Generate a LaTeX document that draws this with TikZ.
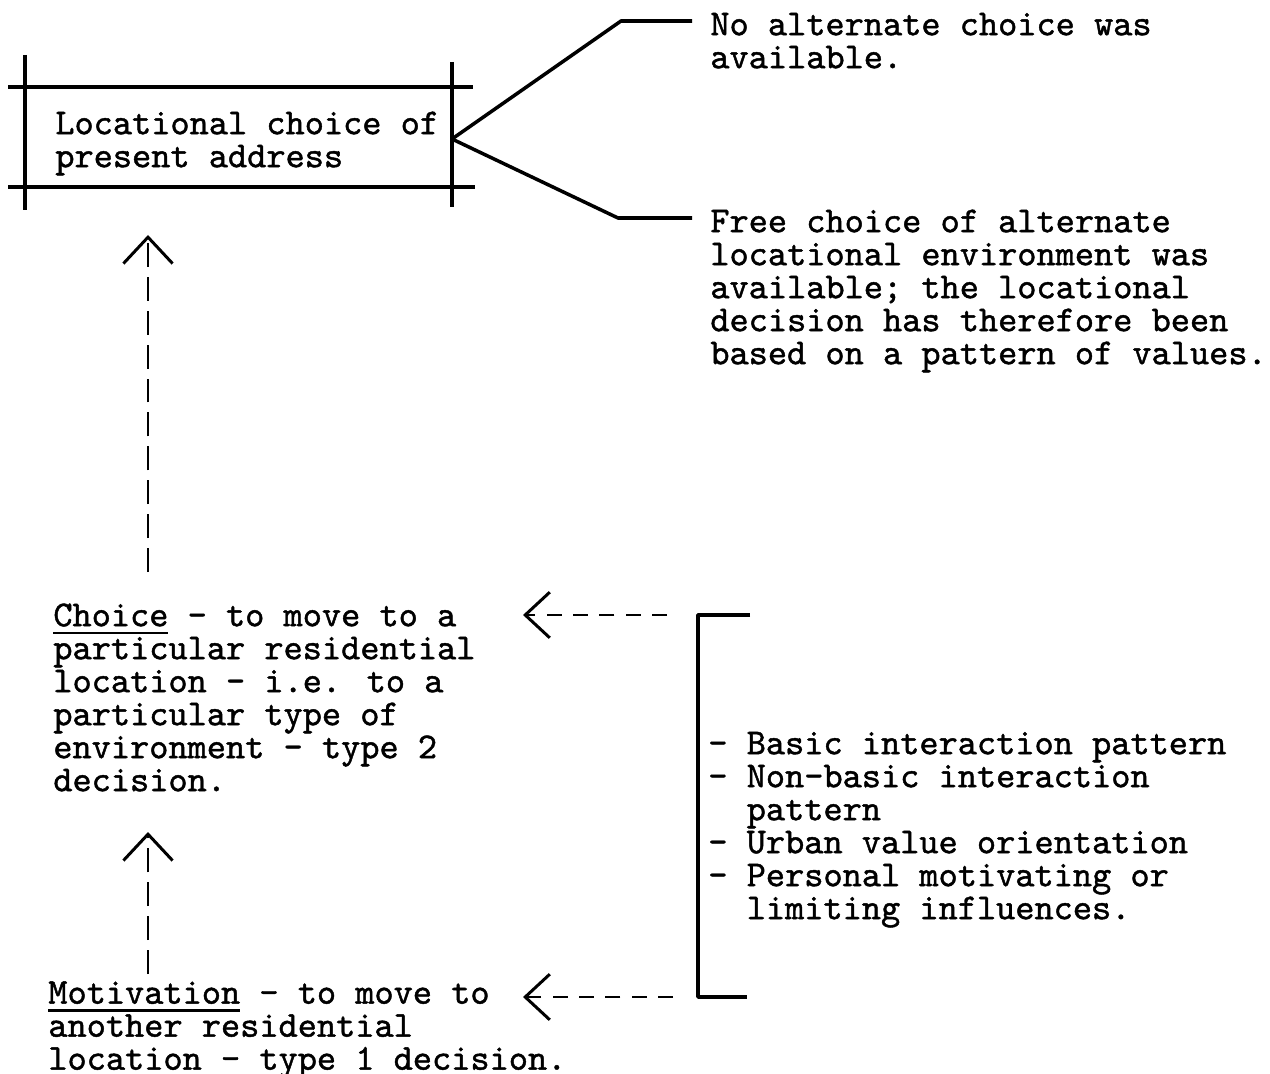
\documentclass[tikz,border=0pt]{standalone}
\usepackage{fontspec}
\setmainfont{lmmono10-regular.otf}[FakeBold=1.2]
\usetikzlibrary{arrows.meta}

\newcommand\undertyped[1]{\setbox0\hbox{#1}\rlap{\rule[-4.6pt]{\wd0}{1.5pt}}\box0\relax}
\newcommand\topline{\rule{0pt}{15pt}}

\tikzset{
  typed/.style={inner sep=0pt, anchor=north west, align=left,
    font=\fontsize{20.8}{18.78}\selectfont},
  boxrule/.style={line width=2.4pt},
  fork/.style={line width=2pt, line join=round},
  uparrow/.style={line width=1.6pt, dash pattern=on 13.6pt off 5.7pt,
    -{Straight Barb[length=15pt, width=28pt, line width=1.7pt]}},
  leftarrow/.style={line width=1.6pt, dash pattern=on 8.5pt off 6.5pt,
    -{Straight Barb[length=14pt, width=26pt, line width=1.7pt]}}
}

\begin{document}
\begin{tikzpicture}[x=0.02cm, y=-0.02cm]
  \useasboundingbox[fill=white] (0,0) rectangle (1270,1074);

  % box of the locational choice
  \node[typed] (addr) at (55,107.5) {\topline Locational choice of\\present address};
  \draw[boxrule] (8,87) -- (473,87);
  \draw[boxrule] (8,187) -- (475,187);
  \draw[boxrule] (25,55) -- (25,210);
  \draw[boxrule] (452,62) -- (452,207);

  % the two outcomes
  \node[typed] (none) at (710,8.5) {\topline No alternate choice was\\available.};
  \node[typed] (free) at (710,205.5) {\topline Free choice of alternate\\locational environment was\\available; the locational\\decision has therefore been\\based on a pattern of values.};
  \coordinate (split) at (452,139);
  \coordinate (noneend) at (692,21);
  \coordinate (freeend) at (692,218);
  \draw[fork] (split) -- (621,21) -- (noneend);
  \draw[fork] (split) -- (618,218) -- (freeend);

  % decisions
  \node[typed] (choice) at (53,599.5) {\topline\undertyped{Choice} - to move to a\\particular residential\\location - i.e. to a\\particular type of\\environment - type 2\\decision.};
  \node[typed] (motive) at (48,977) {\topline\undertyped{Motivation} - to move to\\another residential\\location - type 1 decision.};

  \coordinate (choicetop) at (148,572);
  \coordinate (addrbot) at (148,235);
  \draw[uparrow] (choicetop) -- (addrbot);
  \coordinate (motivetop) at (148,974);
  \coordinate (choicebot) at (148,832);
  \draw[uparrow] (motivetop) -- (choicebot);

  % influences
  \node[typed] (infl) at (708,727.5) {\topline - Basic interaction pattern\\- Non-basic interaction\\\ \ pattern\\- Urban value orientation\\- Personal motivating or\\\ \ limiting influences.};
  \coordinate (brtop) at (750,615);
  \coordinate (brbot) at (747,997);
  \draw[fork] (brtop) -- (698,615) -- (698,997) -- (brbot);

  \coordinate (toptail) at (667,615);
  \coordinate (choicein) at (523,615);
  \draw[leftarrow] (toptail) -- (choicein);
  \coordinate (bottail) at (673,997);
  \coordinate (motivein) at (523,997);
  \draw[leftarrow] (bottail) -- (motivein);
\end{tikzpicture}
\end{document}
